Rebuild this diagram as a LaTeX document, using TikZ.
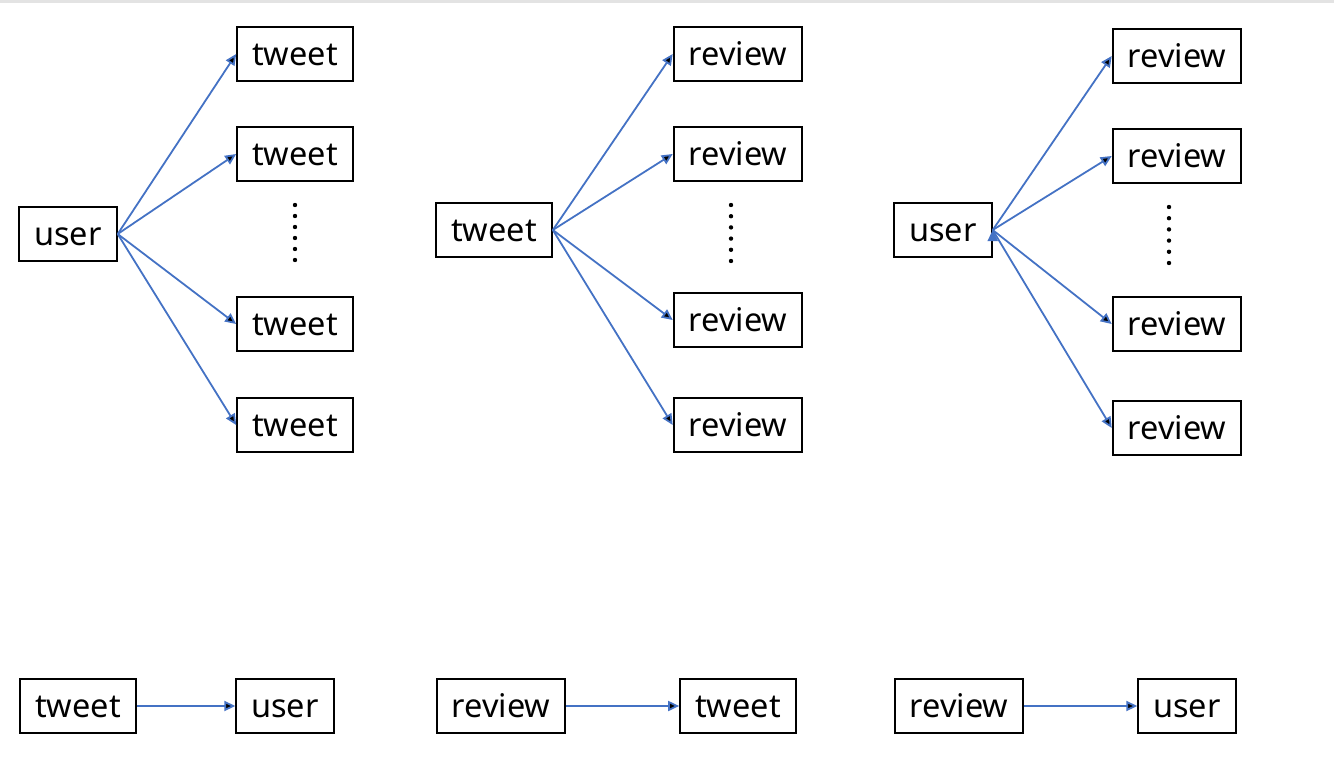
\documentclass[tikz,border=0pt]{standalone}
\usepackage{fontspec}
\setmainfont{Noto Sans}
\usetikzlibrary{arrows.meta, positioning}

\definecolor{linkblue}{HTML}{4472C4}

\tikzset{
  box/.style={draw, line width=2pt, minimum height=54pt, inner xsep=15pt,
    text height=26pt, text depth=3pt,
    font=\fontsize{32.5}{38}\selectfont},
  link/.style={draw=linkblue, line width=1.8pt,
    -{Triangle[length=11pt,width=10pt]}},
}

\begin{document}
\begin{tikzpicture}[x=1pt, y=-1pt]
  \useasboundingbox (0,0) rectangle (1334,784);
  \fill[gray!22] (0,0.5) rectangle (1334,3.5);

  % user -> tweets
  \node[box] (u1) at (68,234) {user};
  \node[box] (t1a) at (295,54) {tweet};
  \node[box] (t1b) at (295,154) {tweet};
  \node[box] (t1c) at (295,324) {tweet};
  \node[box] (t1d) at (295,425) {tweet};
  \foreach \k in {0,...,5}
    \fill (295,205+11*\k) circle (2.2pt);

  % tweet -> reviews
  \node[box] (t2) at (494,230) {tweet};
  \node[box] (r2a) at (738,54) {review};
  \node[box] (r2b) at (738,154) {review};
  \node[box] (r2c) at (738,320) {review};
  \node[box] (r2d) at (738,425) {review};
  \foreach \k in {0,...,5}
    \fill (731,205+11.2*\k) circle (2.2pt);

  % user -> reviews
  \node[box] (u3) at (943,230) {user};
  \node[box] (r3a) at (1177,56) {review};
  \node[box] (r3b) at (1177,156) {review};
  \node[box] (r3c) at (1177,324) {review};
  \node[box] (r3d) at (1177,428) {review};
  \foreach \k in {0,...,5}
    \fill (1169,207+11.2*\k) circle (2.2pt);

  % bottom row
  \node[box] (t4) at (78,706) {tweet};
  \node[box] (u4) at (285,706) {user};
  \node[box] (r5) at (501,706) {review};
  \node[box] (t5) at (738,706) {tweet};
  \node[box] (r6) at (959,706) {review};
  \node[box] (u6) at (1187,706) {user};

  \path[link]
    (u1.east) edge (t1a.west)
        (u1.east) edge (t1b.west)
    (u1.east) edge (t1c.west)
        (u1.east) edge (t1d.west)
    (t2.east) edge (r2a.west)
        (t2.east) edge (r2b.west)
    (t2.east) edge (r2c.west)
        (t2.east) edge (r2d.west)
    (u3.east) edge (r3a.west)
        (u3.east) edge (r3b.west)
    (u3.east) edge (r3c.west)
        (u3.east) edge (r3d.west)
    (t4) edge (u4)
        (r5) edge (t5)
    (r6) edge (u6);
\end{tikzpicture}
\end{document}
